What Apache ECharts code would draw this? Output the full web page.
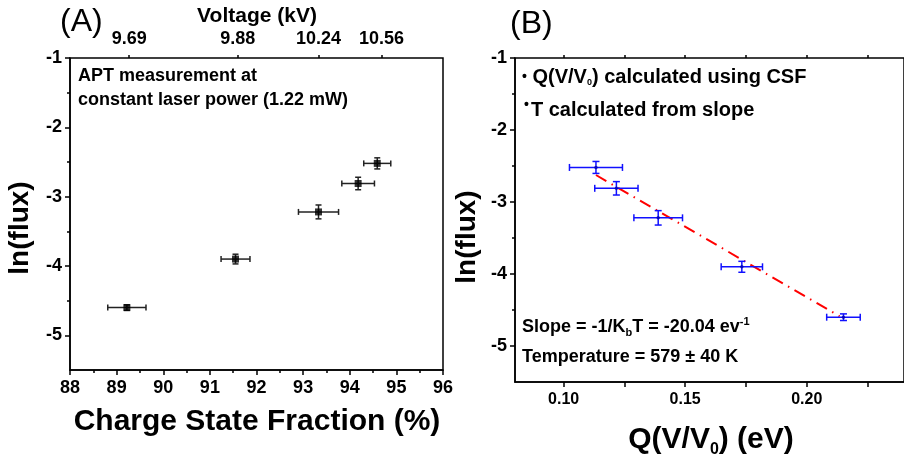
<!DOCTYPE html>
<html>
<head>
<meta charset="utf-8">
<script src="https://cdn.jsdelivr.net/npm/echarts@6/dist/echarts.min.js"></script>
<style>
  html, body { margin: 0; padding: 0; background: #fff; }
  #chart { width: 904px; height: 462px; }
</style>
</head>
<body>
<div id="chart"></div>
<script>
// panel A: ln(flux) vs charge state fraction
const csf = [89.22, 91.55, 93.33, 94.18, 94.59];
const csfErr = [0.41, 0.31, 0.43, 0.35, 0.29];
const lnFluxA = [-4.60, -3.90, -3.22, -2.81, -2.52];
const fluxErrA = [0.04, 0.07, 0.10, 0.09, 0.08];
const csfTicks = [88, 89, 90, 91, 92, 93, 94, 95, 96];

// top axis of panel A (voltage)
const voltagePos = [89.27, 91.6, 93.33, 94.68];
const voltageLabels = ['9.69', '9.88', '10.24', '10.56'];

// panel B: ln(flux) vs Q(V/V0)
const qv = [0.1133, 0.1217, 0.1389, 0.1733, 0.2151];
const qvErr = [0.0109, 0.0089, 0.0100, 0.0085, 0.0069];
const lnFluxB = [-2.52, -2.81, -3.22, -3.90, -4.60];
const fluxErrB = [0.083, 0.093, 0.10, 0.076, 0.046];
const fitX = [0.1133, 0.2135];
const fitY = [-2.625, -4.587];
const qvLabelTicks = [0.10, 0.15, 0.20];
const qvTicks = [0.10, 0.125, 0.15, 0.175, 0.20, 0.225];

const yMajor = [-5, -4, -3, -2, -1];
const yMinor = [-4.5, -3.5, -2.5, -1.5];

const FONT = '"Liberation Sans", Arial, sans-serif';
const chart = echarts.init(document.getElementById('chart'));

function errBars(color, cap, lw) {
  return function (params, api) {
    const x = api.value(0), y = api.value(1), ex = api.value(2), ey = api.value(3);
    const c = api.coord([x, y]);
    const l = api.coord([x - ex, y])[0], r = api.coord([x + ex, y])[0];
    const t = api.coord([x, y + ey])[1], b = api.coord([x, y - ey])[1];
    const style = { stroke: color, lineWidth: lw };
    return {
      type: 'group',
      children: [
        { type: 'line', shape: { x1: l, y1: c[1], x2: r, y2: c[1] }, style },
        { type: 'line', shape: { x1: l, y1: c[1] - cap, x2: l, y2: c[1] + cap }, style },
        { type: 'line', shape: { x1: r, y1: c[1] - cap, x2: r, y2: c[1] + cap }, style },
        { type: 'line', shape: { x1: c[0], y1: t, x2: c[0], y2: b }, style },
        { type: 'line', shape: { x1: c[0] - cap, y1: t, x2: c[0] + cap, y2: t }, style },
        { type: 'line', shape: { x1: c[0] - cap, y1: b, x2: c[0] + cap, y2: b }, style }
      ]
    };
  };
}

const lbl = { color: '#000', fontWeight: 'bold', fontFamily: FONT };
const axLine = { show: true, lineStyle: { color: '#000', width: 1.5 } };
const tickMajor = { show: true, length: 5, lineStyle: { color: '#000', width: 1.5 } };
const tickMinor = { show: true, length: 3, lineStyle: { color: '#000', width: 1.5 } };

function txt(x, y, text, size, extra) {
  return {
    type: 'text', x, y,
    style: Object.assign({
      text, fill: '#000', fontSize: size, fontWeight: 'bold', fontFamily: FONT,
      textVerticalAlign: 'middle'
    }, extra || {})
  };
}

const option = {
  animation: false,
  backgroundColor: '#fff',
  grid: [
    { left: 70, top: 58, right: 461, bottom: 92, show: true, borderColor: '#000', borderWidth: 1.5, backgroundColor: 'transparent' },
    { left: 515, top: 58, right: -2, bottom: 80, show: true, borderColor: '#000', borderWidth: 1.5, backgroundColor: 'transparent' }
  ],
  xAxis: [
    {
      gridIndex: 0, type: 'value', min: 88, max: 96, interval: 1,
      axisLine: axLine, axisTick: tickMajor,
      minorTick: { show: true, splitNumber: 2, length: 3, lineStyle: { color: '#000', width: 1.5 } },
      splitLine: { show: false },
      axisLabel: Object.assign({ fontSize: 18, margin: 9,
        customValues: csfTicks }, lbl)
    },
    {
      gridIndex: 0, type: 'value', position: 'top', min: 88, max: 96,
      axisLine: { show: false },
      axisTick: { show: true, length: 3, customValues: voltagePos, lineStyle: { color: '#000', width: 1.5 } },
      splitLine: { show: false },
      axisLabel: Object.assign({ fontSize: 18, margin: 10, customValues: voltagePos,
        formatter: function (v) {
          let best = 0;
          voltagePos.forEach(function (p, i) { if (Math.abs(p - v) < Math.abs(voltagePos[best] - v)) best = i; });
          return voltageLabels[best];
        } }, lbl)
    },
    {
      gridIndex: 1, type: 'value', min: 0.08, max: 0.24,
      axisLine: axLine,
      axisTick: Object.assign({ customValues: qvTicks }, tickMajor),
      splitLine: { show: false },
      axisLabel: Object.assign({ fontSize: 16, margin: 10, customValues: qvLabelTicks,
        formatter: function (v) { return v.toFixed(2); } }, lbl)
    },
    {
      gridIndex: 1, type: 'value', position: 'top', min: 0.08, max: 0.24,
      axisLine: { show: false },
      axisTick: { show: true, length: 3, customValues: qvTicks, lineStyle: { color: '#000', width: 1.5 } },
      splitLine: { show: false },
      axisLabel: { show: false }
    }
  ],
  yAxis: [
    {
      gridIndex: 0, type: 'value', min: -5.5, max: -1,
      axisLine: axLine,
      axisTick: Object.assign({ customValues: yMajor }, tickMajor),
      splitLine: { show: false },
      axisLabel: Object.assign({ fontSize: 18, margin: 8, customValues: yMajor }, lbl)
    },
    {
      gridIndex: 0, type: 'value', min: -5.5, max: -1, position: 'left',
      axisLine: { show: false },
      axisTick: Object.assign({ customValues: yMinor }, tickMinor),
      splitLine: { show: false }, axisLabel: { show: false }
    },
    {
      gridIndex: 1, type: 'value', min: -5.5, max: -1,
      axisLine: axLine,
      axisTick: Object.assign({ customValues: yMajor }, tickMajor),
      splitLine: { show: false },
      axisLabel: Object.assign({ fontSize: 18, margin: 8, customValues: yMajor }, lbl)
    },
    {
      gridIndex: 1, type: 'value', min: -5.5, max: -1, position: 'left',
      axisLine: { show: false },
      axisTick: Object.assign({ customValues: yMinor }, tickMinor),
      splitLine: { show: false }, axisLabel: { show: false }
    }
  ],
  series: [
    {
      type: 'custom', xAxisIndex: 0, yAxisIndex: 0,
      renderItem: errBars('#222', 3, 1.5),
      data: csf.map(function (x, i) { return [x, lnFluxA[i], csfErr[i], fluxErrA[i]]; }),
      z: 2
    },
    {
      type: 'scatter', xAxisIndex: 0, yAxisIndex: 0,
      symbol: 'rect', symbolSize: 7,
      itemStyle: { color: '#000' },
      data: csf.map(function (x, i) { return [x, lnFluxA[i]]; }),
      z: 3
    },
    {
      type: 'line', xAxisIndex: 2, yAxisIndex: 2,
      symbol: 'none',
      lineStyle: { color: '#ff0000', width: 2, type: [12, 6, 1.5, 6] },
      data: fitX.map(function (x, i) { return [x, fitY[i]]; }),
      z: 2
    },
    {
      type: 'custom', xAxisIndex: 2, yAxisIndex: 2,
      renderItem: errBars('#1010ff', 3.5, 1.5),
      data: qv.map(function (x, i) { return [x, lnFluxB[i], qvErr[i], fluxErrB[i]]; }),
      z: 3
    },
    {
      type: 'scatter', xAxisIndex: 2, yAxisIndex: 2,
      symbol: 'circle', symbolSize: 3.5,
      itemStyle: { color: '#0000b0' },
      data: qv.map(function (x, i) { return [x, lnFluxB[i]]; }),
      z: 4
    }
  ],
  graphic: [
    txt(60, 22, '(A)', 32, { fontWeight: 'normal' }),
    txt(510, 24, '(B)', 32, { fontWeight: 'normal' }),
    txt(257, 16, 'Voltage (kV)', 21, { textAlign: 'center' }),
    txt(78, 76, 'APT measurement at', 18),
    txt(78, 100, 'constant laser power (1.22 mW)', 18),
    txt(257, 422, 'Charge State Fraction (%)', 30, { textAlign: 'center' }),
    {
      type: 'text', x: 20, y: 228, rotation: Math.PI / 2,
      style: { text: 'ln(flux)', fill: '#000', fontSize: 28, fontWeight: 'bold', fontFamily: FONT,
        textAlign: 'center', textVerticalAlign: 'middle' }
    },
    {
      type: 'text', x: 467, y: 237, rotation: Math.PI / 2,
      style: { text: 'ln(flux)', fill: '#000', fontSize: 28, fontWeight: 'bold', fontFamily: FONT,
        textAlign: 'center', textVerticalAlign: 'middle' }
    },
    txt(522, 77, '{b|•} Q(V/V{sub|0}) calculated using CSF', 20, {
      rich: {
        b: { fontSize: 14, fontWeight: 'bold', fontFamily: FONT },
        sub: { fontSize: 9, fontWeight: 'bold', fontFamily: FONT, padding: [12, 0, 0, 0] }
      }
    }),
    txt(524, 110, '{b|•}T calculated from slope', 20, {
      rich: {
        b: { fontSize: 14, fontWeight: 'bold', fontFamily: FONT, padding: [0, 2, 10, 0] }
      }
    }),
    txt(522, 327, 'Slope = -1/K{sub|b}T = -20.04 ev{sup|-1}', 18, {
      rich: {
        sub: { fontSize: 11, fontWeight: 'bold', fontFamily: FONT, padding: [12, 0, 0, 0] },
        sup: { fontSize: 11, fontWeight: 'bold', fontFamily: FONT, padding: [0, 0, 10, 0] }
      }
    }),
    txt(522, 357, 'Temperature = 579 ± 40 K', 18),
    txt(711, 440, 'Q(V/V{sub|0}) (eV)', 30, {
      textAlign: 'center',
      rich: {
        sub: { fontSize: 16, fontWeight: 'bold', fontFamily: FONT, padding: [20, 0, 0, 0] }
      }
    })
  ]
};

chart.setOption(option);
</script>
</body>
</html>
